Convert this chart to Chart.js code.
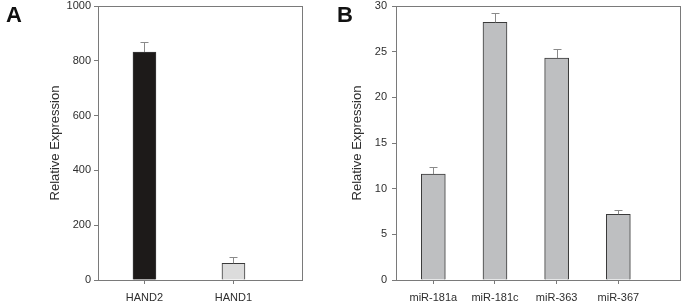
<!DOCTYPE html>
<html>
<head>
<meta charset="utf-8">
<script src="https://cdn.jsdelivr.net/npm/chart.js@4"></script>
<style>
  body { margin: 0; background: #fff; width: 685px; height: 303px; position: relative; overflow: hidden; }
  .panel { position: absolute; top: 0; }
  .tag { position: absolute; top: 4px; font: bold 22px "Liberation Sans", Arial, sans-serif; line-height: 1; color: #111; }
</style>
</head>
<body>
<div class="panel" style="left:0"><canvas id="chartA" width="340" height="303"></canvas></div>
<div class="panel" style="left:340px"><canvas id="chartB" width="345" height="303"></canvas></div>
<div class="tag" style="left:6px">A</div>
<div class="tag" style="left:337px">B</div>
<script>
// panel A data
const genes = ['HAND2', 'HAND1'];
const geneExpr = [832, 61];
const geneErr = [35, 23];
const geneColors = ['#1d1a19', '#dcdcdc'];

// panel B data
const mirnas = ['miR-181a', 'miR-181c', 'miR-363', 'miR-367'];
const mirExpr = [11.6, 28.2, 24.3, 7.2];
const mirErr = [0.75, 1.0, 1.0, 0.5];

const yTicksA = [0, 200, 400, 600, 800, 1000];
const yTicksB = [0, 5, 10, 15, 20, 25, 30];

Chart.defaults.font.family = '"Liberation Sans", Arial, sans-serif';
Chart.defaults.color = '#2e2e2e';

const axisColor = '#7a7a7a';

// box round the plot area + upper error whiskers
const framePlugin = {
  id: 'frame',
  afterDatasetsDraw(chart, args, opts) {
    const ctx = chart.ctx;
    const a = chart.chartArea;
    const meta = chart.getDatasetMeta(0);
    const ys = chart.scales.y;
    ctx.save();
    ctx.strokeStyle = '#8a8a8a';
    ctx.lineWidth = 1;
    meta.data.forEach((bar, i) => {
      const v = chart.data.datasets[0].data[i].y;
      const top = ys.getPixelForValue(v + opts.err[i]);
      const x = Math.round(bar.x) + 0.5;
      ctx.beginPath();
      ctx.moveTo(x, bar.y);
      ctx.lineTo(x, Math.round(top) + 0.5);
      ctx.moveTo(x - 4, Math.round(top) + 0.5);
      ctx.lineTo(x + 4, Math.round(top) + 0.5);
      ctx.stroke();
    });
    ctx.strokeStyle = axisColor;
    ctx.strokeRect(Math.round(a.left) + 0.5, Math.round(a.top) + 0.5,
      Math.round(a.right - a.left), Math.round(a.bottom - a.top));
    ctx.restore();
  }
};

function makeChart(id, cats, vals, err, colors, yTicks, opt) {
  return new Chart(document.getElementById(id), {
    type: 'bar',
    data: {
      datasets: [{
        data: cats.map((c, i) => ({ x: i, y: vals[i] })),
        backgroundColor: colors,
        borderColor: '#3a3a3a',
        borderWidth: 1,
        borderSkipped: 'bottom',
        barThickness: opt.barW
      }]
    },
    options: {
      responsive: false,
      animation: false,
      devicePixelRatio: 1,
      layout: { padding: { top: 6, right: opt.padRight, left: 0, bottom: 0 } },
      plugins: {
        legend: { display: false },
        tooltip: { enabled: false },
        frame: { err: err }
      },
      scales: {
        x: {
          type: 'linear',
          offset: false,
          min: opt.xMin,
          max: opt.xMax,
          afterBuildTicks: s => { s.ticks = cats.map((c, i) => ({ value: i })); },
          afterFit: s => { s.height = 23; s.paddingLeft = 0; s.paddingRight = 0; },
          ticks: {
            autoSkip: false,
            maxRotation: 0,
            padding: 7,
            font: { size: 11 },
            callback: v => cats[v]
          },
          grid: { offset: false, drawOnChartArea: false, tickLength: 4, color: axisColor },
          border: { color: axisColor }
        },
        y: {
          min: yTicks[0],
          max: yTicks[yTicks.length - 1],
          afterBuildTicks: s => { s.ticks = yTicks.map(v => ({ value: v })); },
          afterFit: s => { s.width = opt.yW; s.paddingTop = 0; s.paddingBottom = 0; },
          ticks: { padding: opt.tickPad, font: { size: 11 }, callback: v => String(v) },
          grid: { drawOnChartArea: false, tickLength: 4, color: axisColor },
          border: { color: axisColor },
          title: {
            display: true,
            text: 'Relative Expression',
            font: { size: 13 },
            padding: { top: opt.titlePad, bottom: 0 }
          }
        }
      }
    },
    plugins: [framePlugin]
  });
}

makeChart('chartA', genes, geneExpr, geneErr, geneColors, yTicksA,
  { barW: 23, padRight: 38, yW: 98, xMin: -0.522, xMax: 1.77, tickPad: 3, titlePad: 48 });

makeChart('chartB', mirnas, mirExpr, mirErr, '#bebfc1', yTicksB,
  { barW: 24, padRight: 5, yW: 56, xMin: -0.605, xMax: 4.0, tickPad: 5, titlePad: 10 });
</script>
</body>
</html>
